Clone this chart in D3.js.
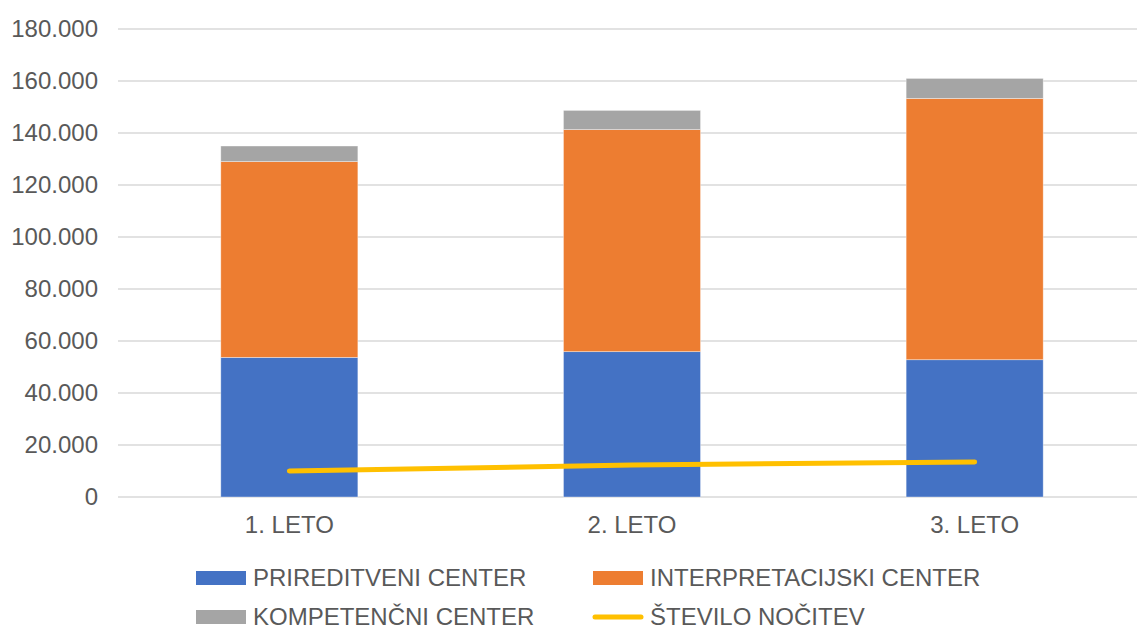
<!DOCTYPE html>
<html>
<head>
<meta charset="utf-8">
<script src="https://cdn.jsdelivr.net/npm/d3@7"></script>
<style>
  html, body { margin: 0; padding: 0; background: #fff; }
  svg { display: block; font-family: "Liberation Sans", Arial, sans-serif; }
</style>
</head>
<body>
<svg id="chart" width="1137" height="628"></svg>
<script>
// Categories and series
const categories = ["1. LETO", "2. LETO", "3. LETO"];
const prireditveni = [53700, 55900, 52800];
const interpretacijski = [75300, 85400, 100500];
const kompetencni = [6000, 7400, 7700];
const nocitve = [10000, 12300, 13500];
const yTicks = [0, 20000, 40000, 60000, 80000, 100000, 120000, 140000, 160000, 180000];

const seriesNames = ["PRIREDITVENI CENTER", "INTERPRETACIJSKI CENTER", "KOMPETENČNI CENTER"];
const lineName = "ŠTEVILO NOČITEV";
const colors = ["#4472C4", "#ED7D31", "#A5A5A5"];
const lineColor = "#FFC000";

const svg = d3.select("#chart");
const margin = { left: 118, right: -9, top: 29, bottom: 131 };
const W = 1137, H = 628;
const fontSize = 24;

const x = d3.scaleBand()
  .domain(categories)
  .range([margin.left, W - margin.right])
  .paddingInner(0.6)
  .paddingOuter(0.3);

const y = d3.scaleLinear()
  .domain([0, 180000])
  .range([H - margin.bottom, margin.top]);

// Gridlines
svg.append("g")
  .selectAll("line")
  .data(yTicks)
  .join("line")
  .attr("x1", margin.left)
  .attr("x2", W)
  .attr("y1", d => y(d))
  .attr("y2", d => y(d))
  .attr("stroke", "#d9d9d9")
  .attr("stroke-width", 1.5);

// Y axis labels
const fmt = d => d === 0 ? "0" : d3.format(",")(d).replace(/,/g, ".");
svg.append("g")
  .selectAll("text")
  .data(yTicks)
  .join("text")
  .attr("x", 98)
  .attr("y", d => y(d))
  .attr("dy", "0.35em")
  .attr("text-anchor", "end")
  .attr("font-size", fontSize)
  .attr("fill", "#595959")
  .text(fmt);

// Stacked bars
const rows = categories.map((c, i) => ({
  cat: c,
  s0: prireditveni[i],
  s1: interpretacijski[i],
  s2: kompetencni[i]
}));
const stack = d3.stack().keys(["s0", "s1", "s2"])(rows);

svg.append("g")
  .selectAll("g")
  .data(stack)
  .join("g")
  .attr("fill", (d, i) => colors[i])
  .selectAll("rect")
  .data(d => d)
  .join("rect")
  .attr("x", d => x(d.data.cat))
  .attr("width", x.bandwidth())
  .attr("y", d => y(d[1]))
  .attr("height", d => y(d[0]) - y(d[1]))
  .attr("stroke", "rgba(255,255,255,0.5)")
  .attr("stroke-width", 0.75);

// Line series
const line = d3.line()
  .x((d, i) => x(categories[i]) + x.bandwidth() / 2)
  .y(d => y(d));

svg.append("path")
  .datum(nocitve)
  .attr("d", line)
  .attr("fill", "none")
  .attr("stroke", lineColor)
  .attr("stroke-width", 5)
  .attr("stroke-linecap", "round")
  .attr("stroke-linejoin", "round");

// X axis labels
svg.append("g")
  .selectAll("text")
  .data(categories)
  .join("text")
  .attr("x", d => x(d) + x.bandwidth() / 2)
  .attr("y", 525)
  .attr("dy", "0.35em")
  .attr("text-anchor", "middle")
  .attr("font-size", fontSize)
  .attr("fill", "#595959")
  .text(d => d);

// Legend
const legendItems = [
  { name: seriesNames[0], color: colors[0], type: "rect", x: 196, y: 578 },
  { name: seriesNames[1], color: colors[1], type: "rect", x: 593, y: 578 },
  { name: seriesNames[2], color: colors[2], type: "rect", x: 196, y: 617 },
  { name: lineName, color: lineColor, type: "line", x: 593, y: 617 }
];
const lg = svg.append("g")
  .selectAll("g")
  .data(legendItems)
  .join("g")
  .attr("transform", d => `translate(${d.x},${d.y})`);

lg.filter(d => d.type === "rect")
  .append("rect")
  .attr("x", 0).attr("y", -7)
  .attr("width", 50).attr("height", 14)
  .attr("fill", d => d.color);

lg.filter(d => d.type === "line")
  .append("line")
  .attr("x1", 2).attr("x2", 48)
  .attr("y1", 0).attr("y2", 0)
  .attr("stroke", d => d.color)
  .attr("stroke-width", 5)
  .attr("stroke-linecap", "round");

lg.append("text")
  .attr("x", 57)
  .attr("y", 0)
  .attr("dy", "0.35em")
  .attr("font-size", fontSize)
  .attr("fill", "#595959")
  .text(d => d.name);
</script>
</body>
</html>
